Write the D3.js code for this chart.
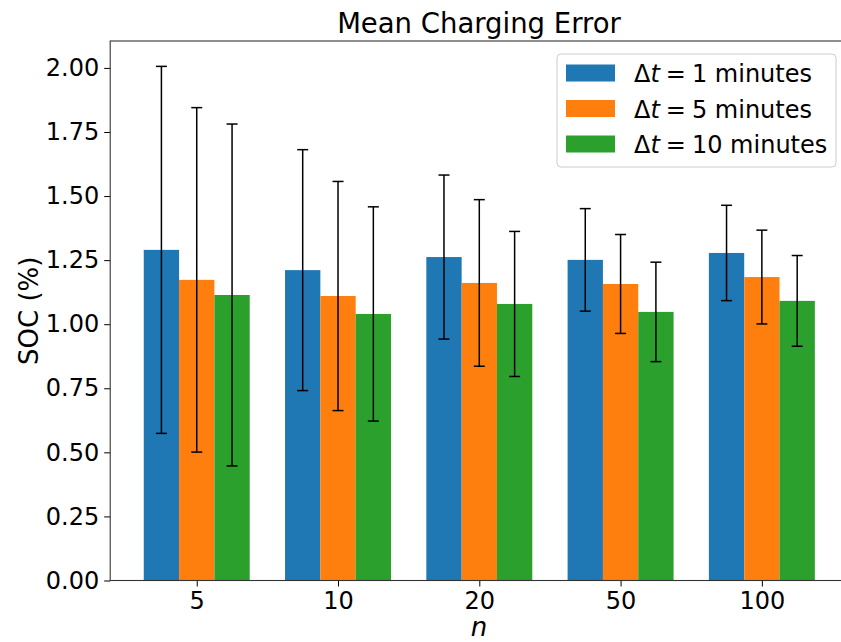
<!DOCTYPE html>
<html>
<head>
<meta charset="utf-8">
<script src="https://cdn.jsdelivr.net/npm/d3@7"></script>
<style>
  body { margin: 0; background: #fff; }
  svg { display: block; font-family: "DejaVu Sans", sans-serif; }
</style>
</head>
<body>
<div id="chart"></div>
<script>
// categories (n) and series
const categories = ["5", "10", "20", "50", "100"];
const seriesNames = ["1", "5", "10"];
const colors = ["#1f77b4", "#ff7f0e", "#2ca02c"];

// mean SOC error (%) per dt series
const means1 = [1.290, 1.211, 1.262, 1.251, 1.278];
const means5 = [1.173, 1.110, 1.161, 1.157, 1.184];
const means10 = [1.114, 1.040, 1.079, 1.048, 1.091];

// std (error bar half-length)
const err1 = [0.716, 0.470, 0.320, 0.200, 0.186];
const err5 = [0.672, 0.447, 0.325, 0.193, 0.183];
const err10 = [0.667, 0.418, 0.283, 0.194, 0.177];

const yTicks = [0, 0.25, 0.5, 0.75, 1.0, 1.25, 1.5, 1.75, 2.0];

const width = 841, height = 642;
const plot = { left: 110.2, right: 848.4, top: 41, bottom: 580.5 };
const barW = 0.25;

const svg = d3.select('#chart').append('svg')
    .attr('width', width)
    .attr('height', height);

const x = d3.scaleLinear()
    .domain([-0.6125, 4.6125])
    .range([plot.left, plot.right]);

const y = d3.scaleLinear()
    .domain([0, 2.105])
    .range([plot.bottom, plot.top]);

const allMeans = [means1, means5, means10];
const allErr = [err1, err5, err10];

const rows = [];
allMeans.forEach((arr, s) => {
    arr.forEach((v, i) => {
        rows.push({ s, i, v, e: allErr[s][i], cx: i + (s - 1) * barW });
    });
});

// bars
svg.append('g').selectAll('rect')
    .data(rows)
    .join('rect')
    .attr('x', d => x(d.cx - barW / 2))
    .attr('width', d => x(d.cx + barW / 2) - x(d.cx - barW / 2))
    .attr('y', d => y(d.v))
    .attr('height', d => y(0) - y(d.v))
    .attr('fill', d => colors[d.s]);

// error bars
const eb = svg.append('g').attr('stroke', '#000').attr('stroke-width', 1.5);
eb.selectAll('line.v')
    .data(rows)
    .join('line')
    .attr('class', 'v')
    .attr('x1', d => x(d.cx)).attr('x2', d => x(d.cx))
    .attr('y1', d => y(d.v - d.e)).attr('y2', d => y(d.v + d.e));
['top', 'bot'].forEach(k => {
    eb.selectAll('line.' + k)
        .data(rows)
        .join('line')
        .attr('class', k)
        .attr('x1', d => x(d.cx) - 5.5).attr('x2', d => x(d.cx) + 5.5)
        .attr('y1', d => y(k === 'top' ? d.v + d.e : d.v - d.e))
        .attr('y2', d => y(k === 'top' ? d.v + d.e : d.v - d.e));
});

// axes
const xAxis = d3.axisBottom(x)
    .tickValues(d3.range(categories.length))
    .tickFormat(i => categories[i])
    .tickSize(6).tickPadding(5);
const yAxis = d3.axisLeft(y)
    .tickValues(yTicks)
    .tickFormat(d3.format('.2f'))
    .tickSize(6).tickPadding(5);

const gx = svg.append('g')
    .attr('transform', `translate(0,${plot.bottom})`)
    .call(xAxis);
const gy = svg.append('g')
    .attr('transform', `translate(${plot.left},0)`)
    .call(yAxis);
[gx, gy].forEach(g => {
    g.select('.domain').remove();
    g.selectAll('line').attr('stroke', '#000').attr('stroke-width', 1);
    g.selectAll('text').attr('font-size', 24).attr('fill', '#000')
        .attr('font-family', '"DejaVu Sans", sans-serif');
});

// spines
svg.append('rect')
    .attr('x', plot.left).attr('y', plot.top)
    .attr('width', plot.right - plot.left)
    .attr('height', plot.bottom - plot.top)
    .attr('fill', 'none')
    .attr('stroke', '#333').attr('stroke-width', 1.1);

// title and labels
svg.append('text')
    .attr('x', 479).attr('y', 33)
    .attr('text-anchor', 'middle')
    .attr('font-size', 27.5)
    .text('Mean Charging Error');

svg.append('text')
    .attr('transform', `translate(38,${(plot.top + plot.bottom) / 2}) rotate(-90)`)
    .attr('text-anchor', 'middle')
    .attr('font-size', 26)
    .text('SOC (%)');

svg.append('text')
    .attr('x', 479).attr('y', 636)
    .attr('text-anchor', 'middle')
    .attr('font-size', 26)
    .attr('font-style', 'italic')
    .text('n');

// legend
const leg = svg.append('g').attr('transform', 'translate(557,54)');
leg.append('rect')
    .attr('width', 279).attr('height', 113)
    .attr('rx', 4)
    .attr('fill', '#fff').attr('fill-opacity', 0.8)
    .attr('stroke', '#ccc');
seriesNames.forEach((name, s) => {
    const row = leg.append('g').attr('transform', `translate(0,${19 + s * 35.5})`);
    row.append('rect')
        .attr('x', 9).attr('y', -8.5)
        .attr('width', 49).attr('height', 17)
        .attr('fill', colors[s]);
    const t = row.append('text')
        .attr('x', 77).attr('y', 9)
        .attr('font-size', 24);
    t.append('tspan').text('\u0394');
    t.append('tspan').attr('font-style', 'italic').text('t');
    t.append('tspan').attr('dx', 6).text('=');
    t.append('tspan').attr('dx', 6).text(name + ' minutes');
});
</script>
</body>
</html>
